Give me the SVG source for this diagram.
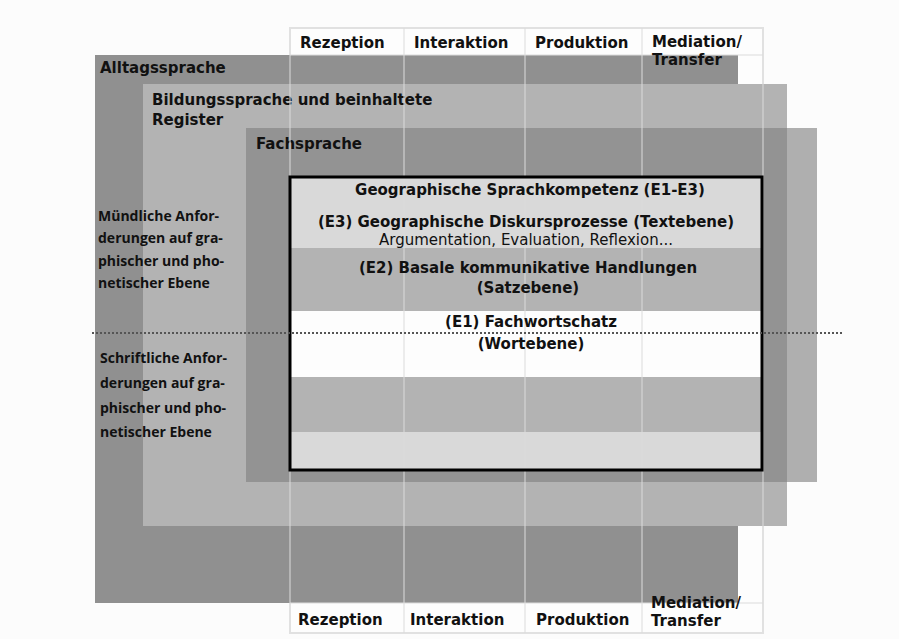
<svg xmlns="http://www.w3.org/2000/svg" width="899" height="639" viewBox="0 0 899 639">
<style>
.hd{font-family:"DejaVu Sans","Liberation Sans",sans-serif;font-weight:bold;font-size:15px;fill:#111}
.ct{font-family:"DejaVu Sans","Liberation Sans",sans-serif;font-weight:bold;font-size:15px;fill:#111;text-anchor:middle}
.rg{font-family:"DejaVu Sans","Liberation Sans",sans-serif;font-size:15px;fill:#111;text-anchor:middle}
.lf{font-family:"Open Sans",Lato,sans-serif;font-weight:700;font-size:14px;fill:#111}
.grid{fill:none;stroke:#dcdcdc;stroke-width:2;stroke-opacity:0.5}
</style>
<rect x="0" y="0" width="899" height="639" fill="#fcfcfc"/>
<g id="table-bg">
<rect x="290" y="28" width="473" height="605" fill="#fdfdfd" stroke="#e6e6e6" stroke-width="2"/>
</g>
<g id="alltagssprache">
<rect x="95" y="55" width="643" height="548" fill="#909090"/>
<text class="hd" x="100" y="73">Alltagssprache</text>
</g>
<g id="bildungssprache">
<rect x="143" y="84" width="644" height="442" fill="#b3b3b3"/>
<text class="hd" x="152" y="105">Bildungssprache und beinhaltete</text>
<text class="hd" x="152" y="125">Register</text>
</g>
<g id="fachsprache">
<rect x="246" y="128" width="571" height="354" fill="#7f7f7f" fill-opacity="0.62"/>
<text class="hd" x="256" y="149">Fachsprache</text>
</g>
<g id="kompetenz">
<rect x="290" y="177" width="472" height="71" fill="#d9d9d9"/>
<rect x="290" y="248" width="472" height="63" fill="#b3b3b3"/>
<rect x="290" y="311" width="472" height="66" fill="#fdfdfd"/>
<rect x="290" y="377" width="472" height="55" fill="#b3b3b3"/>
<rect x="290" y="432" width="472" height="38" fill="#d9d9d9"/>
</g>
<g id="grid">
<rect class="grid" x="290" y="28" width="473" height="605"/>
<line class="grid" x1="404" y1="28" x2="404" y2="633"/>
<line class="grid" x1="525" y1="28" x2="525" y2="633"/>
<line class="grid" x1="642" y1="28" x2="642" y2="633"/>
<line class="grid" x1="290" y1="55" x2="763" y2="55"/>
<line class="grid" x1="290" y1="603" x2="763" y2="603"/>
</g>
<g id="kompetenz-frame">
<rect x="290" y="177" width="472" height="293" fill="none" stroke="#000" stroke-width="3"/>
<text class="ct" x="530" y="195">Geographische Sprachkompetenz (E1-E3)</text>
<text class="ct" x="526" y="227">(E3) Geographische Diskursprozesse (Textebene)</text>
<text class="rg" x="526" y="245">Argumentation, Evaluation, Reflexion...</text>
<text class="ct" x="528" y="273">(E2) Basale kommunikative Handlungen</text>
<text class="ct" x="528" y="293">(Satzebene)</text>
<text class="ct" x="531" y="327">(E1) Fachwortschatz</text>
<text class="ct" x="531" y="349">(Wortebene)</text>
</g>
<g id="header-top">
<text class="hd" x="300" y="48">Rezeption</text>
<text class="hd" x="414" y="48">Interaktion</text>
<text class="hd" x="535" y="48">Produktion</text>
<text class="hd" x="652" y="47">Mediation/</text>
<text class="hd" x="652" y="65">Transfer</text>
</g>
<g id="header-bottom">
<text class="hd" x="298" y="625">Rezeption</text>
<text class="hd" x="410" y="625">Interaktion</text>
<text class="hd" x="536" y="625">Produktion</text>
<text class="hd" x="651" y="608">Mediation/</text>
<text class="hd" x="651" y="626">Transfer</text>
</g>
<g id="muendlich">
<text class="lf" x="98" y="221">Mündliche Anfor-</text>
<text class="lf" x="98" y="243">derungen auf gra-</text>
<text class="lf" x="98" y="266">phischer und pho-</text>
<text class="lf" x="98" y="288">netischer Ebene</text>
</g>
<g id="schriftlich">
<text class="lf" x="100" y="363">Schriftliche Anfor-</text>
<text class="lf" x="100" y="388">derungen auf gra-</text>
<text class="lf" x="100" y="413">phischer und pho-</text>
<text class="lf" x="100" y="437">netischer Ebene</text>
</g>
<g id="connectors">
<line x1="92" y1="333" x2="842" y2="333" stroke="#555" stroke-width="2" stroke-dasharray="2 2"/>
</g>
</svg>
